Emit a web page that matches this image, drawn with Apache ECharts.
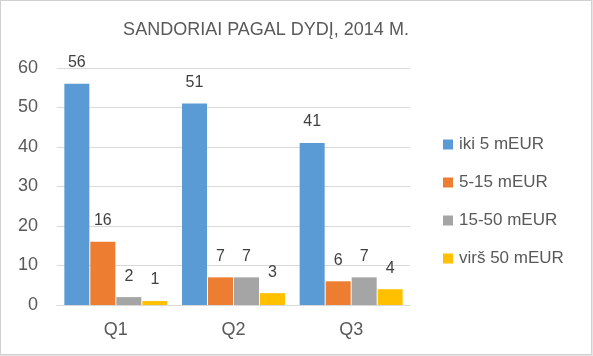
<!DOCTYPE html>
<html><head><meta charset="utf-8">
<script src="https://cdn.jsdelivr.net/npm/echarts@6/dist/echarts.min.js"></script>
<style>
html,body{margin:0;padding:0;background:#e6e6e6;}
#frame{position:absolute;left:0;top:0;width:590px;height:353px;border:1px solid #d0d0d0;background:#fff;}
#c{position:absolute;left:-1px;top:-1px;width:593px;height:356px;}
</style></head>
<body><div id="frame"><div id="c"></div></div>
<script>
const titleText = 'SANDORIAI PAGAL DYDĮ, 2014 M.';
const categories = ['Q1', 'Q2', 'Q3'];
const seriesNames = ['iki 5 mEUR', '5-15 mEUR', '15-50 mEUR', 'virš 50 mEUR'];
const iki5 = [56, 51, 41];
const s5to15 = [16, 7, 6];
const s15to50 = [2, 7, 7];
const virs50 = [1, 3, 4];
const colors = ['#5B9BD5', '#ED7D31', '#A5A5A5', '#FFC000'];
const yTicks = {min: 0, max: 60, interval: 10};

const dataSets = [iki5, s5to15, s15to50, virs50];
const chart = echarts.init(document.getElementById('c'), null, {renderer: 'canvas'});
chart.setOption({
  animation: false,
  color: colors,
  textStyle: {fontFamily: 'Liberation Sans, Arial, sans-serif'},
  title: {
    text: titleText,
    left: 261, top: 16,
    textAlign: 'center',
    textStyle: {fontFamily: 'Liberation Sans, sans-serif', fontSize: 18, fontWeight: 'normal', color: '#595959'}
  },
  legend: {
    orient: 'vertical',
    left: 443, top: 136, padding: 0,
    itemWidth: 10, itemHeight: 10, itemGap: 21,
    icon: 'rect',
    textStyle: {fontSize: 17, color: '#595959', lineHeight: 17, padding: [0,0,0,1]},
    data: seriesNames
  },
  grid: {left: 57, right: 183, top: 68, bottom: 51, containLabel: false},
  xAxis: {
    type: 'category', data: categories,
    axisLine: {lineStyle: {color: '#d9d9d9', width: 1}},
    axisTick: {show: false},
    axisLabel: {fontSize: 18, color: '#595959', margin: 16}
  },
  yAxis: {
    type: 'value', min: yTicks.min, max: yTicks.max, interval: yTicks.interval,
    axisLine: {show: false}, axisTick: {show: false},
    splitLine: {lineStyle: {color: '#d9d9d9', width: 1}},
    axisLabel: {fontSize: 18, color: '#595959', margin: 19}
  },
  series: seriesNames.map((n, i) => ({
    name: n, type: 'bar', data: dataSets[i],
    barWidth: 25, barGap: '4%',
    itemStyle: {color: colors[i]},
    label: {show: true, position: 'top', distance: 13, fontSize: 16, color: '#404040'}
  }))
});
</script></body></html>
